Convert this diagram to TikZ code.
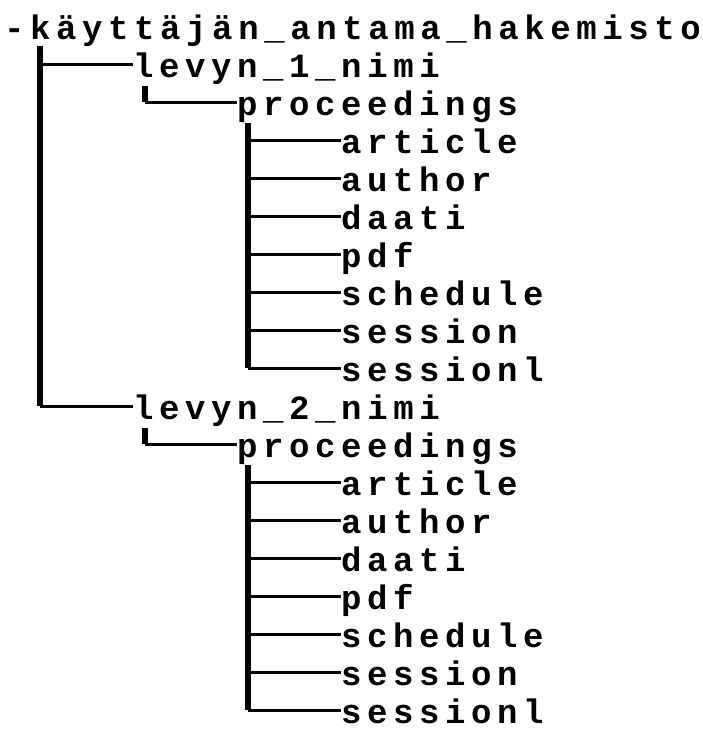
\documentclass[tikz,border=0pt]{standalone}
\usepackage{fontspec}
\newfontfamily\dirfont{Liberation Mono}[LetterSpace=16.5]
\begin{document}
\begin{tikzpicture}[x=1pt,y=-1pt,
  item/.style={anchor=base west, inner sep=0pt, text height=26pt, text depth=0pt,
    font=\dirfont\bfseries\fontsize{34}{38}\selectfont},
  spine/.style={line width=5.5pt},
  branch/.style={line width=3pt}]
\useasboundingbox (0,0) rectangle (703,729);
% nodes
\node[item] (root) at (4,39) {-käyttäjän\_antama\_hakemisto};
\node[item] (lev1) at (133,77) {levyn\_1\_nimi};
\node[item] (proc1) at (237,115) {proceedings};
\node[item] (lev2) at (133,419) {levyn\_2\_nimi};
\node[item] (proc2) at (237,457) {proceedings};
\foreach \n [count=\i from 0] in {article,author,daati,pdf,schedule,session,sessionl}{
  \node[item] (a\i) at (341,153+38*\i) {\n};
  \node[item] (b\i) at (341,495+38*\i) {\n};
}
% spine tops
\coordinate (s0) at (40,46);
\coordinate (s1) at (145,86);
\coordinate (s2) at (248,123);
\coordinate (s3) at (145,428);
\coordinate (s4) at (248,465);
% root
\draw[spine] (s0) -- (s0 |- lev2.west);
\draw[branch] (s0 |- lev1.west) -- (lev1.west);
\draw[branch] (s0 |- lev2.west) -- (lev2.west);
% levyn -> proceedings
\draw[spine] (s1) -- (s1 |- proc1.west);
\draw[branch] (s1 |- proc1.west) -- (proc1.west);
\draw[spine] (s3) -- (s3 |- proc2.west);
\draw[branch] (s3 |- proc2.west) -- (proc2.west);
% proceedings -> children
\draw[spine] (s2) -- (s2 |- a6.west);
\draw[spine] (s4) -- (s4 |- b6.west);
\foreach \i in {0,...,6}{
  \draw[branch] (s2 |- a\i.west) -- (a\i.west);
  \draw[branch] (s4 |- b\i.west) -- (b\i.west);
}
\end{tikzpicture}
\end{document}
